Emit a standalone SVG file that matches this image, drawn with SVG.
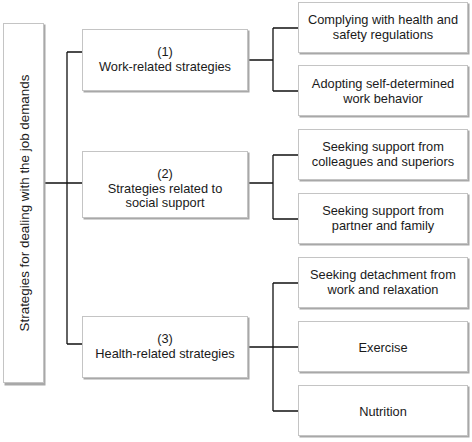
<svg xmlns="http://www.w3.org/2000/svg" width="472" height="442" viewBox="0 0 472 442">
<style>
.box{fill:#fff;stroke:#c4c4c4;stroke-width:1}
.sh{fill:#a8a8a8}
.t{font-family:"Liberation Sans",Arial,sans-serif;font-size:12.8px;fill:#1a1a1a;text-anchor:middle}
.c{fill:none;stroke:#111;stroke-width:1.3}
</style>
<rect width="472" height="442" fill="#fff"/>
<g id="connectors">
<path class="c" d="M44,183H82M67,52V344M67,52H82M67,344H82"/>
<path class="c" d="M248,60H273M273,28V91M273,28H298M273,91H298"/>
<path class="c" d="M248,183H273M273,155V219M273,155H298M273,219H298"/>
<path class="c" d="M248,347H273M273,283V411M273,283H298M273,347H298M273,411H298"/>
</g>
<g id="root">
<rect class="sh" x="4.5" y="24.5" width="41" height="361"/>
<rect class="box" x="3.5" y="23.5" width="40" height="359"/>
<text class="t" style="font-size:13.4px" transform="translate(28.5,203) rotate(-90)">Strategies for dealing with the job demands</text>
</g>
<g id="n1">
<rect class="sh" x="83.5" y="30.5" width="166" height="62"/>
<rect class="box" x="82.5" y="29.5" width="165" height="61"/>
<text class="t" x="165" y="56">(1)</text>
<text class="t" x="165" y="70.5">Work-related strategies</text>
</g>
<g id="n2">
<rect class="sh" x="83.5" y="152.5" width="166" height="67"/>
<rect class="box" x="82.5" y="151.5" width="165" height="66"/>
<text class="t" x="165" y="178">(2)</text>
<text class="t" x="165" y="192.5">Strategies related to</text>
<text class="t" x="165" y="207">social support</text>
</g>
<g id="n3">
<rect class="sh" x="83.5" y="317.5" width="166" height="62"/>
<rect class="box" x="82.5" y="316.5" width="165" height="61"/>
<text class="t" x="165" y="343">(3)</text>
<text class="t" x="165" y="357.5">Health-related strategies</text>
</g>
<g id="c1">
<rect class="sh" x="299.5" y="3.5" width="170" height="51"/>
<rect class="box" x="298.5" y="2.5" width="169" height="50"/>
<text class="t" x="383" y="24">Complying with health and</text>
<text class="t" x="383" y="38.5">safety regulations</text>
</g>
<g id="c2">
<rect class="sh" x="299.5" y="66.5" width="170" height="51"/>
<rect class="box" x="298.5" y="65.5" width="169" height="50"/>
<text class="t" x="383" y="88">Adopting self-determined</text>
<text class="t" x="383" y="102.5">work behavior</text>
</g>
<g id="c3">
<rect class="sh" x="299.5" y="130.5" width="170" height="51"/>
<rect class="box" x="298.5" y="129.5" width="169" height="50"/>
<text class="t" x="383" y="151">Seeking support from</text>
<text class="t" x="383" y="165.5">colleagues and superiors</text>
</g>
<g id="c4">
<rect class="sh" x="299.5" y="194.5" width="170" height="51"/>
<rect class="box" x="298.5" y="193.5" width="169" height="50"/>
<text class="t" x="383" y="215">Seeking support from</text>
<text class="t" x="383" y="229.5">partner and family</text>
</g>
<g id="c5">
<rect class="sh" x="299.5" y="258.5" width="170" height="51"/>
<rect class="box" x="298.5" y="257.5" width="169" height="50"/>
<text class="t" x="383" y="279">Seeking detachment from</text>
<text class="t" x="383" y="293.5">work and relaxation</text>
</g>
<g id="c6">
<rect class="sh" x="299.5" y="322.5" width="170" height="51"/>
<rect class="box" x="298.5" y="321.5" width="169" height="50"/>
<text class="t" x="383" y="351.5">Exercise</text>
</g>
<g id="c7">
<rect class="sh" x="299.5" y="386.5" width="170" height="51"/>
<rect class="box" x="298.5" y="385.5" width="169" height="50"/>
<text class="t" x="383" y="415.5">Nutrition</text>
</g>
</svg>
